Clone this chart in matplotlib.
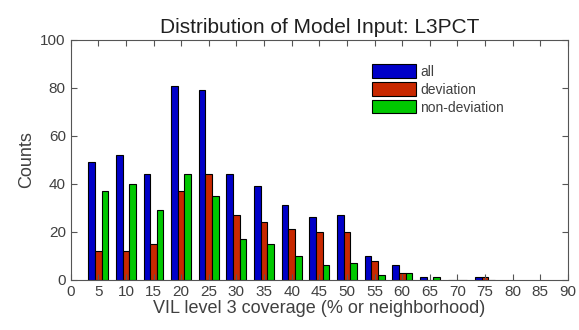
import numpy as np
import matplotlib
matplotlib.use("Agg")
from matplotlib import pyplot as plt

plt.rcParams['font.family'] = ['Liberation Sans', 'DejaVu Sans']

# bin centres and counts
bins = [5, 10, 15, 20, 25, 30, 35, 40, 45, 50, 55, 60, 65, 70, 75]
all_counts = [49, 52, 44, 81, 79, 44, 39, 31, 26, 27, 10, 6, 1, 0, 1]
dev_counts = [12, 12, 15, 37, 44, 27, 24, 21, 20, 20, 8, 3, 0, 0, 1]
nondev_counts = [37, 40, 29, 44, 35, 17, 15, 10, 6, 7, 2, 3, 1, 0, 0]
labels = ["all", "deviation", "non-deviation"]
colors = ["#0000c8", "#c82800", "#00c800"]

txt = "#404040"
fig = plt.figure(figsize=(5.79, 3.3), dpi=100)
ax = fig.add_axes([0.122, 0.152, 0.859, 0.727])

x = np.array(bins, dtype=float)
w = 1.2
for i, (vals, lab, c) in enumerate(zip([all_counts, dev_counts, nondev_counts], labels, colors)):
    ax.bar(x + (i - 1) * w, vals, width=w, color=c, edgecolor="black", linewidth=0.8, label=lab)

ax.set_xlim(0, 90)
ax.set_ylim(0, 100)
ax.set_xticks(range(0, 91, 5))
ax.set_yticks(range(0, 101, 20))
for s in ax.spines.values():
    s.set_color("#555555")
ax.tick_params(direction="in", top=True, right=True, labelsize=11, length=4,
               colors="#555555", labelcolor=txt)
ax.set_xlabel("VIL level 3 coverage (% or neighborhood)", fontsize=13, color=txt, labelpad=1)
ax.set_ylabel("Counts", fontsize=13, color=txt)
ax.set_title("Distribution of Model Input: L3PCT", fontsize=15, color="#202020", pad=5)
ax.legend(loc="upper left", bbox_to_anchor=(0.58, 0.95), frameon=False,
          fontsize=10, handlelength=3.2, handleheight=1.1, labelspacing=0.25,
          handletextpad=0.3, labelcolor=txt)

fig.savefig("out.png", dpi=100)
